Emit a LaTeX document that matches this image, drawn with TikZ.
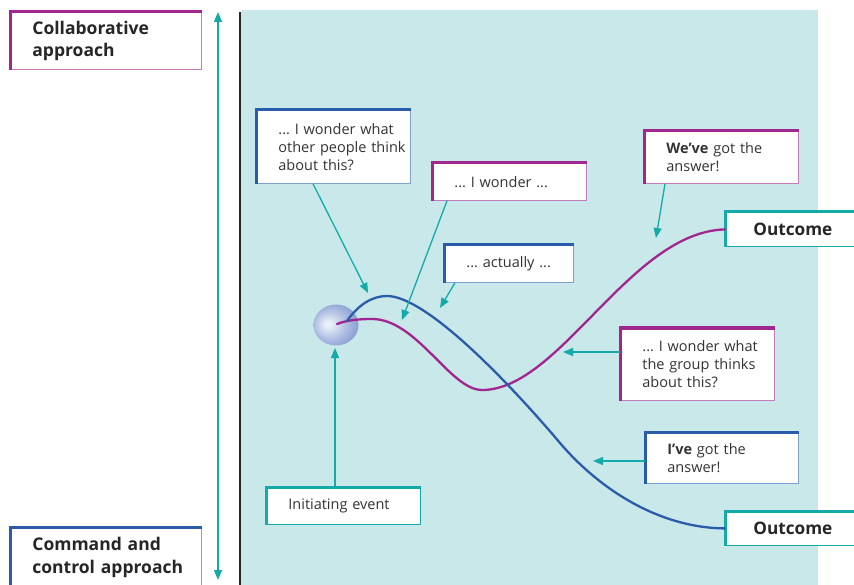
\documentclass[tikz,border=0pt]{standalone}
\usepackage{fontspec}
\setmainfont{Open Sans}
\usetikzlibrary{arrows.meta,calc,shapes.geometric}
\frenchspacing

\definecolor{bgcyan}{HTML}{C9E8EA}
\definecolor{purp}{HTML}{A1268F}
\definecolor{purpl}{HTML}{C47BB9}
\definecolor{blu}{HTML}{2B5CA9}
\definecolor{blul}{HTML}{7FA0D2}
\definecolor{tealc}{HTML}{14AAAA}
\definecolor{txt}{HTML}{333333}
\definecolor{orbc}{HTML}{EAF0F9}
\definecolor{orbm}{HTML}{AEBDE2}
\definecolor{orbe}{HTML}{7890CB}

\pgfdeclareradialshading{orb}{\pgfpoint{-10bp}{1bp}}{%
  color(0bp)=(orbc); color(3bp)=(orbc); color(18bp)=(orbm);
  color(34bp)=(orbe); color(50bp)=(orbe)}

\tikzset{
  note/.style 2 args={anchor=north west, fill=white, draw=#1, line width=0.8pt,
    inner xsep=0pt, inner ysep=0pt, align=left, text=txt,
    text width=#2, font=\fontsize{14.5}{18}\selectfont,
    execute at begin node={\leftskip=22pt\relax}},
  headnote/.style 2 args={note={#1}{#2}, text=black!85,
    font=\fontsize{17.5}{22.5}\selectfont\bfseries},
  outnote/.style={note={tealc}{140pt}, text=black!85, minimum height=34pt,
    font=\fontsize{17.2}{22}\selectfont\bfseries,
    execute at begin node={\leftskip=28pt\relax}},
  thickedge/.style={draw=#1, line width=3pt},
  pointer/.style={draw=tealc, line width=1.3pt,
    -{Triangle[length=10pt,width=8pt]}},
  path/.style={line width=2.3pt, line cap=round},
}

\begin{document}
\begin{tikzpicture}[x=1pt,y=-1pt]
\useasboundingbox (0,0) rectangle (854,585);
\clip (0,0) rectangle (854,585);

% shaded field and the axis on its left
\fill[bgcyan] (241,10) rectangle (818,590);
\draw[line width=2.5pt, black!85] (240,12) -- (240,590);

% scale between the two approaches
\coordinate (scaletop) at (218,12);
\coordinate (scalebot) at (218,580);
\draw[draw=tealc, line width=1.3pt,
  {Triangle[length=10pt,width=8pt]}-{Triangle[length=10pt,width=8pt]}]
  (scaletop) -- (scalebot);

% labels of the two ends of the scale
\node[headnote={purpl}{191pt}, minimum height=57pt] (collab) at (10,12)
  {Collaborative\\approach};
\node[headnote={blul}{191pt}, minimum height=60pt] (command) at (10,527)
  {Command and\\control approach};

% thought boxes
\node[note={blul}{154pt}, minimum height=73pt] (q1) at (256,110)
  {... I wonder what\\other people think\\about this?};
\node[note={purpl}{154pt}, minimum height=37pt] (q2) at (432,163)
  {... I wonder ...};
\node[note={blul}{129pt}, minimum height=37pt] (q3) at (444,245)
  {... actually ...};
\node[note={purpl}{154pt}, minimum height=52pt] (q4) at (644,131)
  {\textbf{We’ve} got the\\answer!};
\node[note={purpl}{154pt}, minimum height=72pt] (q5) at (620,328)
  {... I wonder what\\the group thinks\\about this?};
\node[note={blul}{153pt}, minimum height=51pt] (q6) at (645,432)
  {\textbf{I’ve} got the\\answer!};
\node[note={tealc}{154pt}, minimum height=37pt] (init) at (266,487)
  {Initiating event};

% outcomes
\node[outnote] (out1) at (725,212) {Outcome};
\node[outnote] (out2) at (725,511) {Outcome};

% coloured top and left edges of every box
\foreach \n/\c in {collab/purp, command/blu, q1/blu, q2/purp, q3/blu,
                   q4/purp, q5/purp, q6/blu, init/tealc, out1/tealc, out2/tealc}
  \draw[thickedge=\c] (\n.south west) -- (\n.north west) -- (\n.north east);

% starting point
\node[ellipse, minimum width=45pt, minimum height=41pt, inner sep=0pt,
      shade, shading=orb] (ball) at (336,325) {};

% the two paths to an outcome
\draw[path, purp] (ball.center) ++(1,-1)
  .. controls (347,320) and (360,319) .. (372,319)
  .. controls (417,319) and (450,390) .. (482,390)
  .. controls (560,390) and (630,232) .. (out1.west);
\draw[path, blu] (ball.center) ++(11,-4)
  .. controls (358,305) and (372,296) .. (387,296)
  .. controls (425,296) and (505,378) .. (560,443)
  .. controls (600,490) and (660,528) .. (out2.west);

% pointers from the boxes to the paths
\coordinate (t1) at (368,293);
\coordinate (t2) at (402,320);
\coordinate (t3) at (440,308);
\coordinate (t4) at (656,238);
\coordinate (t5) at (563,352);
\coordinate (t6) at (593,461);
\coordinate (t7) at (335,348);
\draw[pointer] ($(q1.south west)+(57,0)$) -- (t1);
\draw[pointer] ($(q2.south west)+(15,0)$) -- (t2);
\draw[pointer] ($(q3.south west)+(11,0)$) -- (t3);
\draw[pointer] ($(q4.south west)+(21,0)$) -- (t4);
\draw[pointer] ($(q5.north west)+(0,24)$) -- (t5);
\draw[pointer] ($(q6.north west)+(0,29)$) -- (t6);
\draw[pointer] ($(init.north west)+(69,0)$) -- (t7);
\end{tikzpicture}
\end{document}
